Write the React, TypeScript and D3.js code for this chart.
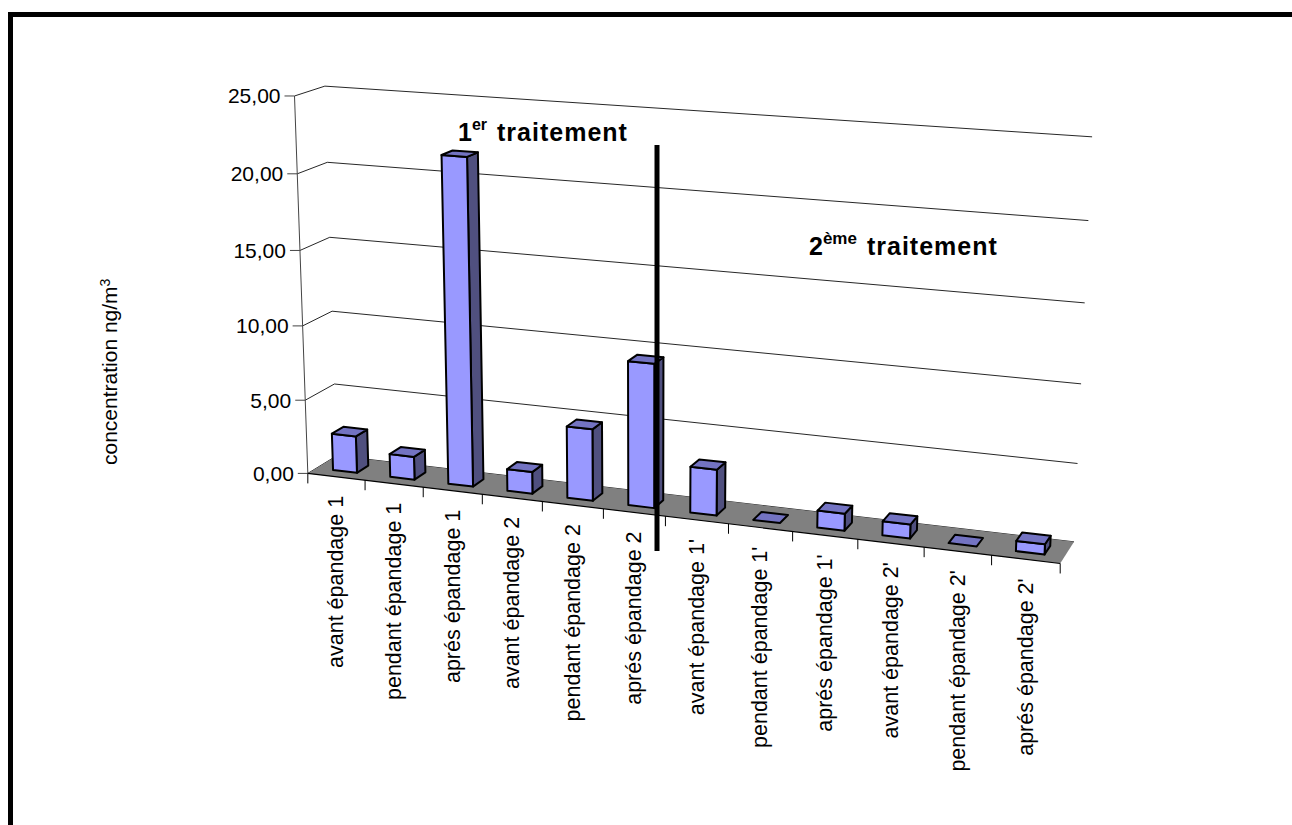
import React from "react";
import * as d3 from "d3";

// Sampled concentrations per campaign, ng/m3
const categories = [
  "avant épandage 1", "pendant épandage 1", "aprés épandage 1",
  "avant épandage 2", "pendant épandage 2", "aprés épandage 2",
  "avant épandage 1'", "pendant épandage 1'", "aprés épandage 1'",
  "avant épandage 2'", "pendant épandage 2'", "aprés épandage 2'",
];
const concentrations = [2.5, 1.55, 21.65, 1.45, 4.75, 9.45, 3.0, 0, 1.1, 0.9, 0, 0.65];
const valueTicks = [0, 5, 10, 15, 20, 25];
const valueLabels = ["0,00", "5,00", "10,00", "15,00", "20,00", "25,00"];

type Anchor = [number, number, number, number, number];

// Camera calibration: (u, v, value) in chart space against its place on the page.
const calibration: Anchor[] = [
  [0, 0, 0, 308, 473], [1, 0, 0, 1060, 565], [0, 1, 0, 336, 458], [1, 1, 0, 1075, 541],
  [0, 0, 25, 294, 96], [0, 1, 25, 325, 86], [1, 1, 25, 1094, 137],
  [0, 1, 5, 334, 383], [1, 1, 5, 1078, 463], [0, 1, 10, 333, 311], [1, 1, 10, 1080, 383],
  [0, 1, 15, 330, 237], [1, 1, 15, 1083, 303], [0, 1, 20, 327, 163], [1, 1, 20, 1088, 221],
  [0, 0, 20, 297, 174], [0, 0, 5, 306, 399],
];

// Least-squares fit of an 11-parameter projective camera.
function solveCamera(points: Anchor[]): number[] {
  const n = 11;
  const A = Array.from({ length: n }, () => new Array(n + 1).fill(0));
  const add = (row: number[], rhs: number) => {
    for (let i = 0; i < n; i++) {
      for (let j = 0; j < n; j++) A[i][j] += row[i] * row[j];
      A[i][n] += row[i] * rhs;
    }
  };
  for (const [u, v, h, x, y] of points) {
    const w = h / 25;
    add([u, v, w, 1, 0, 0, 0, 0, -x * u, -x * v, -x * w], x);
    add([0, 0, 0, 0, u, v, w, 1, -y * u, -y * v, -y * w], y);
  }
  for (let c = 0; c < n; c++) {
    let pivot = c;
    for (let r = c + 1; r < n; r++) if (Math.abs(A[r][c]) > Math.abs(A[pivot][c])) pivot = r;
    [A[c], A[pivot]] = [A[pivot], A[c]];
    for (let r = 0; r < n; r++) {
      if (r === c) continue;
      const f = A[r][c] / A[c][c];
      for (let k = c; k <= n; k++) A[r][k] -= f * A[c][k];
    }
  }
  return A.map((row, i) => row[n] / row[i]);
}

const cam = solveCamera(calibration);
const valueScale = d3.scaleLinear().domain([0, 25]).range([0, 1]);
const bandScale = d3.scaleBand<number>().domain(d3.range(categories.length)).range([0, 1]);

function project(u: number, v: number, value: number): [number, number] {
  const w = valueScale(value);
  const d = cam[8] * u + cam[9] * v + cam[10] * w + 1;
  return [
    (cam[0] * u + cam[1] * v + cam[2] * w + cam[3]) / d,
    (cam[4] * u + cam[5] * v + cam[6] * w + cam[7]) / d,
  ];
}

const polygon = d3.line<[number, number]>();
const face = (pts: [number, number][]) => polygon(pts) + "Z";

const SANS = "'Liberation Sans', Arial, sans-serif";
const FRONT = "#9999FF";
const TOP = "#7373C2";
const SIDE = "#50507F";
const GAP = 0.29;
const DEPTH_FROM = 0.3;
const DEPTH_TO = 0.7;

function Bar({ index, value }: { index: number; value: number }) {
  const step = bandScale.step();
  const u0 = (bandScale(index) as number) + step * GAP;
  const u1 = (bandScale(index) as number) + step * (1 - GAP);
  const [v0, v1] = [DEPTH_FROM, DEPTH_TO];
  const common = { stroke: "#000", strokeWidth: 2, strokeLinejoin: "round" as const };
  return (
    <g>
      {value > 0 && (
        <>
          <path d={face([project(u1, v0, 0), project(u1, v1, 0), project(u1, v1, value), project(u1, v0, value)])} fill={SIDE} {...common} />
          <path d={face([project(u0, v0, 0), project(u1, v0, 0), project(u1, v0, value), project(u0, v0, value)])} fill={FRONT} {...common} />
        </>
      )}
      <path d={face([project(u0, v0, value), project(u1, v0, value), project(u1, v1, value), project(u0, v1, value)])} fill={TOP} {...common} />
    </g>
  );
}

export default function App() {
  const tickLen = 10;
  return (
    <svg width={1292} height={825} style={{ position: "fixed", left: 0, top: 0, background: "#fff" }} fontFamily={SANS}>
      {/* page frame, open to the right and bottom */}
      <rect x={8} y={12} width={1284} height={5} fill="#000" />
      <rect x={8} y={12} width={5} height={813} fill="#000" />

      {/* wall gridlines and their depth returns */}
      {valueTicks.map((t) => {
        const a = project(0, 0, t);
        const b = project(0, 1, t);
        const c = project(1, 1, t);
        return (
          <g key={t}>
            <path d={polygon([a, b, c]) as string} fill="none" stroke="#000" strokeWidth={1} opacity={0.85} />
            <line x1={a[0] - tickLen} y1={a[1]} x2={a[0]} y2={a[1]} stroke="#444" strokeWidth={1} />
            <text x={a[0] - 14} y={a[1] + 7.5} fontSize={21} textAnchor="end" fill="#000">
              {valueLabels[valueTicks.indexOf(t)]}
            </text>
          </g>
        );
      })}
      <line x1={project(0, 0, 0)[0]} y1={project(0, 0, 0)[1]} x2={project(0, 0, 25)[0]} y2={project(0, 0, 25)[1]} stroke="#444" strokeWidth={1} />

      {/* floor */}
      <path d={face([project(0, 0, 0), project(1, 0, 0), project(1, 1, 0), project(0, 1, 0)])} fill="#808080" />
      <line x1={project(0, 0, 0)[0]} y1={project(0, 0, 0)[1]} x2={project(1, 0, 0)[0]} y2={project(1, 0, 0)[1]} stroke="#000" strokeWidth={1.2} />

      {/* category ticks */}
      {d3.range(categories.length + 1).map((i) => {
        const [x, y] = project(i / categories.length, 0, 0);
        return <line key={i} x1={x} y1={y} x2={x} y2={y + tickLen} stroke="#000" strokeWidth={1} />;
      })}

      {concentrations.map((value, i) => <Bar key={i} index={i} value={value} />)}

      {/* category labels */}
      {categories.map((label, i) => {
        const [x, y] = project((i + 0.5) / categories.length, 0, 0);
        return (
          <text key={label} transform={`translate(${x + 7},${y + 19}) rotate(-90)`} fontSize={21.5} textAnchor="end" fill="#000">
            {label}
          </text>
        );
      })}

      <text transform="translate(117,465) rotate(-90)" fontSize={21} fill="#000">
        concentration ng/m<tspan dy={-7} fontSize={14}>3</tspan>
      </text>

      {/* split between the two treatments */}
      <line x1={657} y1={145} x2={657} y2={551} stroke="#000" strokeWidth={5} />

      <text x={458} y={141} fontSize={25} fontWeight="bold" fill="#000">
        1<tspan dy={-11} fontSize={16}>er</tspan><tspan dy={11} dx={10} letterSpacing={1}>traitement</tspan>
      </text>
      <text x={809} y={255} fontSize={25} fontWeight="bold" fill="#000">
        2<tspan dy={-11} fontSize={17}>ème</tspan><tspan dy={11} dx={10} letterSpacing={1}>traitement</tspan>
      </text>
    </svg>
  );
}
